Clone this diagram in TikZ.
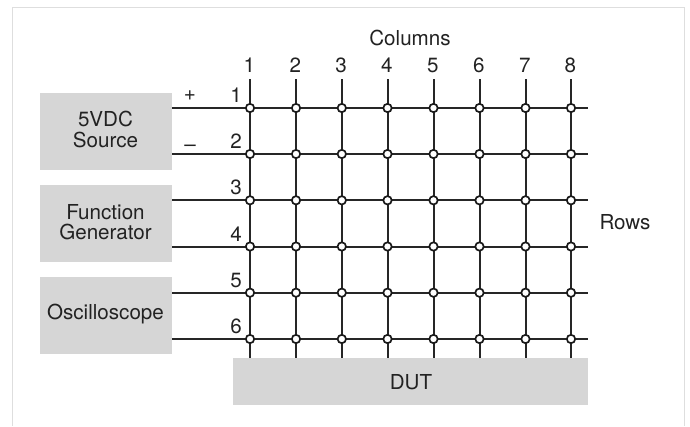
\documentclass[tikz,border=0pt]{standalone}
\usepackage{fontspec}
\setmainfont{TeX Gyre Heros}
\pgfdeclarelayer{back}
\pgfsetlayers{back,main}
\definecolor{boxgray}{HTML}{D6D6D6}
\definecolor{framegray}{HTML}{DEDEDE}
\definecolor{inkdark}{HTML}{222222}
\tikzset{
  graybox/.style={fill=boxgray,draw=none,inner sep=0pt,outer sep=0pt,anchor=north west},
  txt/.style={text=inkdark,inner sep=0pt,outer sep=0pt,font=\fontsize{20.6}{22}\selectfont},
  wire/.style={draw=black!85,line width=2pt},
  crosspt/.style={circle,draw=black!90,fill=white,line width=1.7pt,minimum size=8.4pt,inner sep=0pt,outer sep=0pt},
  framerule/.style={draw=framegray,line width=1.4pt}
}
\begin{document}
\begin{tikzpicture}[x=1pt,y=-1pt]
\useasboundingbox (0,0) rectangle (690,426);
\draw[framerule] (12.5,426) -- (12.5,7.5) -- (684.5,7.5) -- (684.5,426);
% boxes
\node[graybox,minimum width=132pt,minimum height=77pt] (src) at (40,93) {};
\node[graybox,minimum width=132pt,minimum height=77pt] (gen) at (40,185) {};
\node[graybox,minimum width=132pt,minimum height=77pt] (osc) at (40,277) {};
\node[graybox,minimum width=355pt,minimum height=47pt] (dut) at (233,358) {};
% box texts
\node[txt,anchor=base] (t5v) at (105.5,126.7) {5VDC};
\node[txt,anchor=base] (tsrc) at (105.5,147) {Source};
\node[txt,anchor=base] (tfn) at (105.5,219.4) {Function};
\node[txt,anchor=base] (tgn) at (105.5,239.7) {Generator};
\node[txt,anchor=base] (tos) at (105.5,319.7) {Oscilloscope};
\node[txt,anchor=base] (tdu) at (411,389.7) {DUT};
\node[txt,anchor=base] (tcols) at (410,45) {Columns};
\node[txt,anchor=base] (trows) at (625,229) {Rows};
\node[txt,anchor=base] (tplus) at (190,100) {+};
\node[txt,anchor=base] (tminus) at (190,151) {–};
% row ends and labels
\foreach \r/\y in {1/108,2/154,3/200.3,4/246.5,5/292.7,6/339}{
  \coordinate (rs\r) at (171,\y);
  \coordinate (re\r) at (587.5,\y);
  \node[txt,anchor=base] (rl\r) at (236,\y-5.5) {\r};
  \begin{pgfonlayer}{back}
    \draw[wire] (rs\r) -- (re\r);
  \end{pgfonlayer}
}
% columns, labels, crossings
\foreach \c/\x in {1/250,2/296,3/341.8,4/387.5,5/433.5,6/479.5,7/525.5,8/571}{
  \coordinate (ct\c) at (\x,79);
  \coordinate (cb\c) at (\x,358);
  \node[txt,anchor=base] (cl\c) at (\x-0.7,72) {\c};
  \begin{pgfonlayer}{back}
    \draw[wire] (ct\c) -- (cb\c);
  \end{pgfonlayer}
  \foreach \r/\y in {1/108,2/154,3/200.3,4/246.5,5/292.7,6/339}{
    \node[crosspt] (n\c-\r) at (\x,\y) {};
  }
}
\end{tikzpicture}
\end{document}
